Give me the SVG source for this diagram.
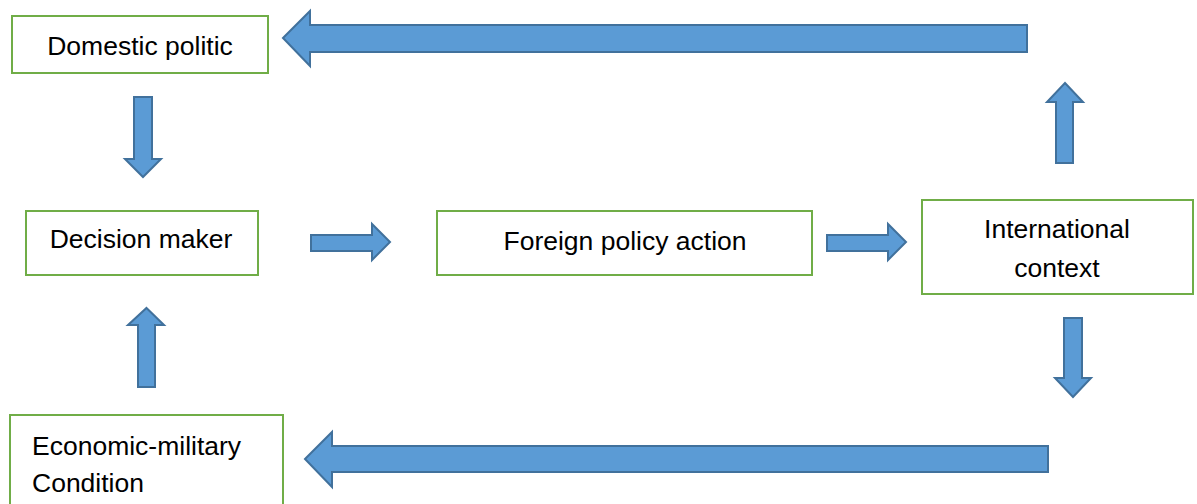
<svg xmlns="http://www.w3.org/2000/svg" width="1197" height="504" viewBox="0 0 1197 504">
<style>
.box{fill:#fff;stroke:#70AD47;stroke-width:2}
.arr{fill:#5B9BD5;stroke:#41719C;stroke-width:2;stroke-linejoin:miter}
text{font-family:"Liberation Sans",Arial,sans-serif;font-size:26.5px;fill:#000}
.c{text-anchor:middle}
</style>
<rect width="1197" height="504" fill="#fff"/>
<g id="domestic"><rect class="box" x="12" y="16" width="256" height="57"/><text class="c" x="140" y="55">Domestic politic</text></g>
<g id="decision"><rect class="box" x="26" y="211" width="232" height="64"/><text class="c" x="141" y="248">Decision maker</text></g>
<g id="foreign"><rect class="box" x="437" y="211" width="375" height="64"/><text class="c" x="625" y="250">Foreign policy action</text></g>
<g id="international"><rect class="box" x="922" y="200" width="271" height="94"/><text class="c" x="1057" y="238">International</text><text class="c" x="1057" y="277">context</text></g>
<g id="economic"><rect class="box" x="10" y="415" width="273" height="100"/><text x="32" y="455">Economic-military</text><text x="32" y="492">Condition</text></g>
<g id="connectors">
<polygon class="arr" points="283,38 310,11 310,25 1027,25 1027,52 310,52 310,66"/>
<polygon class="arr" points="305,459 332,432 332,446 1048,446 1048,472 332,472 332,487"/>
<polygon class="arr" points="134,97 152,97 152,159 161,159 143,177 125,159 134,159"/>
<polygon class="arr" points="146.5,308 164,325 155,325 155,387 138,387 138,325 128,325"/>
<polygon class="arr" points="311,235 372,235 372,224 390,242 372,260 372,251 311,251"/>
<polygon class="arr" points="827,235 888,235 888,224 906,242 888,260 888,251 827,251"/>
<polygon class="arr" points="1065,83 1083,102 1073,102 1073,163 1056,163 1056,102 1047,102"/>
<polygon class="arr" points="1064,318 1082,318 1082,378 1091,378 1073,397 1055,378 1064,378"/>
</g>
</svg>
